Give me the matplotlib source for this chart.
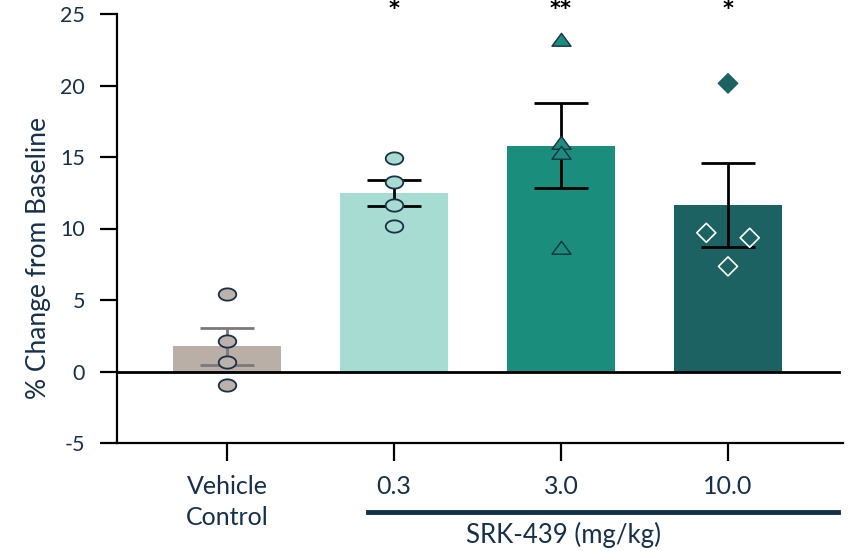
import matplotlib
matplotlib.use("Agg")
import matplotlib.pyplot as plt
import numpy as np
from matplotlib.path import Path

# ---- data ----
categories = ["Vehicle\nControl", "0.3", "3.0", "10.0"]
means = [1.75, 12.5, 15.8, 11.65]
sems = [1.3, 0.9, 3.0, 2.95]
vehicle_pts = [5.45, 2.1, 0.65, -0.95]
dose03_pts = [14.9, 13.25, 11.65, 10.2]
dose3_pts = [23.2, 16.0, 15.3, 8.65]
dose10_pts = [20.15, 9.7, 9.35, 7.35]
stars = ["", "*", "**", "*"]
group_label = "SRK-439 (mg/kg)"
ylabel = "% Change from Baseline"
yticks = [-5, 0, 5, 10, 15, 20, 25]

# ---- style ----
FONT = "Lato"
TXT = "#16304a"
EDGE = "#1a3047"
bar_colors = ["#b9afa7", "#a6dcd1", "#1a8d7c", "#1c6262"]
err_colors = ["#7a7a7a", "black", "black", "black"]

plt.rcParams["font.family"] = [FONT, "DejaVu Sans"]

fig = plt.figure(figsize=(8.48, 5.51), dpi=100)
ax = fig.add_axes([117/848, 1-443/551, (843-117)/848, (443-14)/551])

x = np.arange(len(categories))
ax.bar(x, means, width=0.65, color=bar_colors, zorder=1)
ax.axhline(0, color="black", lw=2.0, zorder=2, xmax=(839-117)/(843-117))

for i in range(len(categories)):
    ax.errorbar(x[i], means[i], yerr=sems[i], fmt="none", ecolor=err_colors[i],
                elinewidth=2.0, capsize=19.5, capthick=2.0, zorder=3)

# custom marker paths
t = np.linspace(0, 2*np.pi, 60)
ellipse = Path(np.column_stack([np.cos(t), 0.7*np.sin(t)]), closed=True)
tri = Path([(-1, -0.6), (1, -0.6), (0, 0.75), (-1, -0.6)], closed=True)
diamond = Path([(0, 1), (1, 0), (0, -1), (-1, 0), (0, 1)], closed=True)

ax.scatter([x[0]]*len(vehicle_pts), vehicle_pts, marker=ellipse, s=17.5**2*0.52,
           facecolor="#bcb2ab", edgecolor=EDGE, linewidths=1.3, zorder=4)
ax.scatter([x[1]]*len(dose03_pts), dose03_pts, marker=ellipse, s=17.5**2*0.52,
           facecolor=bar_colors[1], edgecolor=EDGE, linewidths=1.3, zorder=4)
ax.scatter([x[2]]*len(dose3_pts), dose3_pts, marker=tri, s=19**2*0.52,
           facecolor=bar_colors[2], edgecolor=EDGE, linewidths=1.0, zorder=4)
d10_offsets = [0.0, -0.13, 0.13, 0.0]
d10_edges = [bar_colors[3], "white", "white", "white"]
ax.scatter(x[3] + np.array(d10_offsets), dose10_pts, marker=diamond, s=19**2*0.52,
           facecolor=bar_colors[3], edgecolor=d10_edges, linewidths=1.2, zorder=4)

for i, s in enumerate(stars):
    if s:
        ax.text(x[i], 24.95, s, ha="center", va="baseline", fontsize=15,
                fontweight="bold", color="black", clip_on=False,
                family="DejaVu Sans")

ax.set_xlim((117-227)/167, (843-227)/167)
ax.set_ylim(-5, 25)
ax.set_yticks(yticks)
ax.set_yticklabels([str(v) for v in yticks], fontsize=15.5, color=TXT)
ax.set_xticks(x)
ax.set_xticklabels(categories, fontsize=18, color=TXT, linespacing=1.45)
ax.tick_params(axis="y", length=12, width=1.6, pad=11, color="black")
ax.tick_params(axis="x", length=13, width=1.6, pad=10, color="black")
for s in ["top", "right"]:
    ax.spines[s].set_visible(False)
ax.spines["left"].set_linewidth(1.6)
ax.spines["bottom"].set_linewidth(1.6)
ax.set_ylabel(ylabel, fontsize=19, color=TXT, va="center")
ax.yaxis.set_label_coords((38-117)/(843-117), (443-258)/(443-14))

# group line and label
fig.add_artist(plt.Line2D([368/848, 838/848], [1-512/551, 1-512/551],
                          color="#14304a", lw=3.5))
fig.text(563/848, 1-535/551, group_label, ha="center", va="center",
         fontsize=18.5, color=TXT)

fig.savefig("out.png", dpi=100)
